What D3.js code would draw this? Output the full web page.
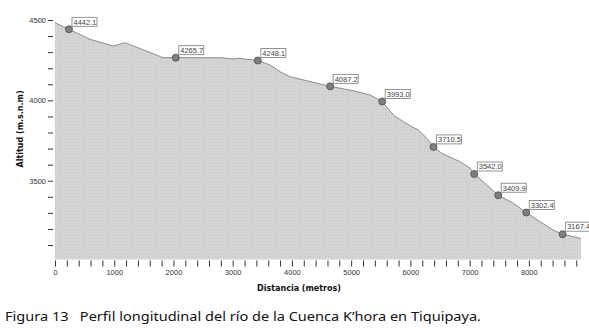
<!DOCTYPE html>
<html>
<head>
<meta charset="utf-8">
<script src="https://cdn.jsdelivr.net/npm/d3@7"></script>
<style>
  html, body { margin: 0; padding: 0; background: #fff; }
  svg { display: block; }
</style>
</head>
<body>
<svg id="chart" width="589" height="331"></svg>
<script>
// river profile
const distance = [0, 236, 591, 985, 1182, 1829, 2039, 2816, 3012, 3096, 3424, 3632, 3801, 3970,
  4645, 5039, 5321, 5524, 5715, 5883, 6025, 6137, 6279, 6390, 6532, 6841, 7010, 7078, 7292,
  7483, 7742, 7956, 8193, 8417, 8570, 8880];
const elevation = [4483, 4442, 4380, 4338, 4359, 4265, 4266, 4265, 4257, 4262, 4248, 4220, 4178, 4147,
  4087, 4060, 4033, 3993, 3908, 3867, 3836, 3815, 3763, 3711, 3670, 3618, 3577, 3542, 3473,
  3410, 3359, 3302, 3244, 3192, 3167, 3141];

// labelled points
const pointDistance = [236, 2039, 3424, 4645, 5524, 6390, 7078, 7483, 7956, 8570];
const pointValue = [4442.1, 4265.7, 4248.1, 4087.2, 3993.0, 3710.5, 3542.0, 3409.9, 3302.4, 3167.4];

const xTickLabels = [0, 1000, 2000, 3000, 4000, 5000, 6000, 7000, 8000];
const yTickLabels = [3500, 4000, 4500];

const svg = d3.select('#chart');

const x = d3.scaleLinear().domain([0, 8880]).range([55, 581]);
const y = d3.scaleLinear().domain([3010, 4500]).range([259.5, 20]);

// dotted fill texture
const defs = svg.append('defs');
const pat = defs.append('pattern')
  .attr('id', 'dots')
  .attr('width', 3)
  .attr('height', 3)
  .attr('patternUnits', 'userSpaceOnUse');
pat.append('rect').attr('width', 3).attr('height', 3).attr('fill', '#d4d4d4');
pat.append('rect').attr('x', 1).attr('y', 1).attr('width', 1).attr('height', 1).attr('fill', '#c6c6c6');

const profile = distance.map((d, i) => ({ d, e: elevation[i] }));

const area = d3.area()
  .x(p => x(p.d))
  .y0(y(3010))
  .y1(p => y(p.e));

svg.append('path')
  .datum(profile)
  .attr('fill', 'url(#dots)')
  .attr('d', area);

svg.append('path')
  .datum(profile)
  .attr('fill', 'none')
  .attr('stroke', '#8c8c8c')
  .attr('stroke-width', 1)
  .attr('d', d3.line().x(p => x(p.d)).y(p => y(p.e)));

// Axes
const fontAxis = 'Liberation Sans, Arial, sans-serif';

const xAxis = svg.append('g')
  .attr('transform', `translate(0,${y(3010) + 1})`)
  .call(d3.axisBottom(x)
    .tickValues(d3.range(0, 8801, 200))
    .tickSize(6)
    .tickFormat(d => xTickLabels.includes(d) ? d : ''));
xAxis.select('.domain').remove();
xAxis.selectAll('line').attr('stroke', '#333');
xAxis.selectAll('text')
  .attr('fill', '#333')
  .attr('y', 9)
  .style('font-family', fontAxis)
  .style('font-size', '7.5px');

const yAxis = svg.append('g')
  .attr('transform', 'translate(53,0)')
  .call(d3.axisLeft(y)
    .tickValues(d3.range(3100, 4501, 100))
    .tickSize(5)
    .tickFormat(d => yTickLabels.includes(d) ? d : ''));
yAxis.select('.domain').remove();
yAxis.selectAll('line').attr('stroke', '#333');
yAxis.selectAll('text')
  .attr('fill', '#333')
  .attr('x', -7)
  .style('font-family', fontAxis)
  .style('font-size', '7.5px');

// axis titles
svg.append('text')
  .attr('x', 299)
  .attr('y', 291)
  .attr('text-anchor', 'middle')
  .style('font-family', 'DejaVu Sans, sans-serif')
  .style('font-weight', 'bold')
  .style('font-size', '8px')
  .attr('fill', '#111')
  .text('Distancia (metros)');

svg.append('text')
  .attr('transform', 'translate(23,129) rotate(-90)')
  .attr('text-anchor', 'middle')
  .style('font-family', 'DejaVu Sans, sans-serif')
  .style('font-weight', 'bold')
  .style('font-size', '8px')
  .attr('fill', '#111')
  .text('Altitud (m.s.n.m)');

// markers + value boxes
const pts = pointDistance.map((d, i) => ({ d, v: pointValue[i] }));

svg.selectAll('.dot')
  .data(pts)
  .enter()
  .append('circle')
  .attr('class', 'dot')
  .attr('cx', p => x(p.d))
  .attr('cy', p => y(p.v))
  .attr('r', 3.5)
  .attr('fill', '#7f7f7f')
  .attr('stroke', '#4a4a4a')
  .attr('stroke-width', 0.8);

const lab = svg.selectAll('.lab')
  .data(pts)
  .enter()
  .append('g')
  .attr('class', 'lab')
  .attr('transform', p => `translate(${x(p.d) + 3},${y(p.v) - 12})`);

lab.append('rect')
  .attr('width', 25)
  .attr('height', 9)
  .attr('fill', '#fff')
  .attr('stroke', '#7a7a7a')
  .attr('stroke-width', 0.8);

lab.append('text')
  .attr('x', 1.5)
  .attr('y', 7.3)
  .attr('fill', '#444')
  .style('font-family', fontAxis)
  .style('font-size', '7.5px')
  .text(p => p.v.toFixed(1));

// caption
svg.append('text')
  .attr('x', 5)
  .attr('y', 321)
  .attr('textLength', 476)
  .attr('lengthAdjust', 'spacingAndGlyphs')
  .style('font-family', 'Noto Sans, sans-serif')
  .style('font-size', '13px')
  .attr('fill', '#111')
  .attr('xml:space', 'preserve')
  .style('white-space', 'pre')
  .text('Figura 13   Perfil longitudinal del río de la Cuenca K\u2019hora en Tiquipaya.');
</script>
</body>
</html>
